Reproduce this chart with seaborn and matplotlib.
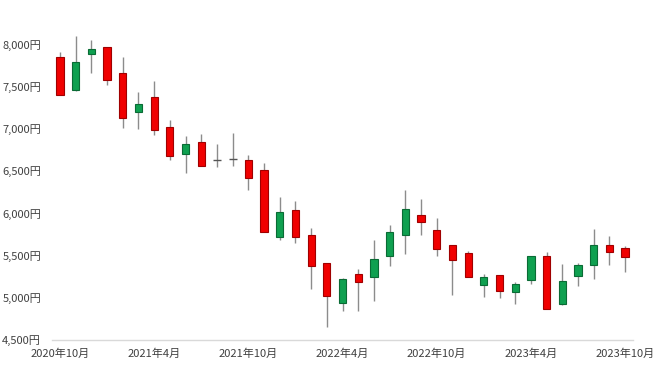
import numpy as np
import pandas as pd
import seaborn as sns
import matplotlib.pyplot as plt

# 月足 2020年10月 - 2023年10月
months = pd.period_range("2020-10", "2023-10", freq="M")
opens = [7853, 7459, 7882, 7968, 7657, 7196, 7377, 7025, 6699, 6841,
         6625, 6640, 6631, 6509, 5717, 6036, 5744, 5409, 4931, 5279,
         5244, 5487, 5736, 5981, 5803, 5617, 5528, 5152, 5267, 5066,
         5204, 5496, 4928, 5252, 5389, 5626, 5582]
closes = [7400, 7787, 7941, 7578, 7125, 7290, 6986, 6679, 6817, 6552,
          6625, 6640, 6414, 5771, 6008, 5717, 5369, 5014, 5220, 5180,
          5460, 5776, 6043, 5890, 5578, 5448, 5244, 5244, 5082, 5161,
          5496, 4865, 5200, 5389, 5626, 5535, 5480]
highs = [7905, 8098, 8043, 7968, 7846, 7439, 7558, 7104, 6915, 6935,
         6821, 6947, 6690, 6592, 6190, 6143, 5823, 5409, 5232, 5338,
         5685, 5854, 6276, 6170, 5941, 5617, 5555, 5279, 5267, 5185,
         5496, 5539, 5398, 5409, 5815, 5724, 5606]
lows = [7400, 7440, 7657, 7518, 7013, 6998, 6919, 6623, 6474, 6552,
        6540, 6552, 6276, 5771, 5685, 5646, 5102, 4652, 4837, 4837,
        4955, 5369, 5512, 5744, 5487, 5034, 5244, 5002, 4995, 4928,
        5165, 4865, 4908, 5133, 5220, 5381, 5298]
tick_months = ["2020年10月", "2021年4月", "2021年10月", "2022年4月",
               "2022年10月", "2023年4月", "2023年10月"]

df = pd.DataFrame({"open": opens, "close": closes, "high": highs, "low": lows})
df["x"] = np.arange(len(df))
df["diff"] = df["close"] - df["open"]

sns.set_style("white")
plt.rcParams['font.family'] = ['Noto Sans CJK JP', 'DejaVu Sans']

fig = plt.figure(figsize=(6.6, 3.71), dpi=100)
ax = fig.add_axes([0.079, 0.084, 0.88, 0.854])

# ひげ
ax.vlines(df["x"], df["low"], df["high"], color="#8c8c8c", linewidth=1, zorder=1)

# 実体 (陽線=緑, 陰線=赤)
for d, face, edge in [(df[df["diff"] > 0], "#0fa050", "#0a6b35"),
                      (df[df["diff"] < 0], "#f00000", "#a00000")]:
    bottom = d[["open", "close"]].min(axis=1)
    ax.bar(d["x"], d["diff"].abs(), bottom=bottom, width=0.46, color=face,
           edgecolor=edge, linewidth=0.8, zorder=2)

# 寄引同事線
doji = df[df["diff"] == 0]
ax.hlines(doji["close"], doji["x"] - 0.25, doji["x"] + 0.25, color="#555555",
          linewidth=1, zorder=3)

ax.set_xlim(-0.5, len(df) - 0.5)
ax.set_ylim(4500, 8250)
ax.set_yticks(range(4500, 8001, 500))
ax.set_yticklabels([f"{v:,}円" for v in range(4500, 8001, 500)])
month_keys = [f"{p.year}年{p.month}月" for p in months]
ax.set_xticks([month_keys.index(t) for t in tick_months])
ax.set_xticklabels(tick_months)
ax.tick_params(axis="both", length=0, labelsize=8, colors="#404040")
ax.tick_params(axis="y", pad=8)
ax.tick_params(axis="x", pad=6)

for s in ["top", "right", "left"]:
    ax.spines[s].set_visible(False)
ax.spines["bottom"].set_color("#d9d9d9")
ax.spines["bottom"].set_linewidth(1)

fig.savefig("out.png", dpi=100)
